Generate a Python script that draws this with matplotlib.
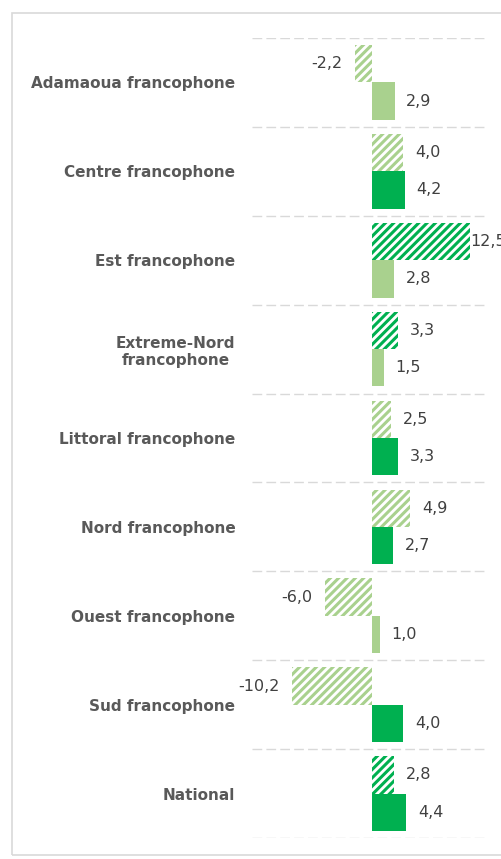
import numpy as np
import matplotlib
matplotlib.use("Agg")
import matplotlib.pyplot as plt
from matplotlib.patches import Rectangle

# Data
regions = ["Adamaoua francophone", "Centre francophone", "Est francophone",
           "Extreme-Nord\nfrancophone", "Littoral francophone", "Nord francophone",
           "Ouest francophone", "Sud francophone", "National"]
hatched_vals = [-2.2, 4.0, 12.5, 3.3, 2.5, 4.9, -6.0, -10.2, 2.8]
hatched_dark = [False, False, True, True, False, False, False, False, True]
solid_vals = [2.9, 4.2, 2.8, 1.5, 3.3, 2.7, 1.0, 4.0, 4.4]
solid_dark = [False, True, False, False, True, True, False, True, True]

light = "#a9d18e"
dark = "#00b050"

plt.rcParams["hatch.linewidth"] = 2.2

fig = plt.figure(figsize=(5.01, 8.59), dpi=100)
ax = fig.add_axes([0.503, 0.0244, 0.469, 0.9314])

# outer chart border
fig.patches.append(Rectangle((12 / 501, 1 - 855 / 859), 1.0, 842 / 859,
                             transform=fig.transFigure, fill=False,
                             edgecolor="#d9d9d9", linewidth=1.2))

y = np.arange(len(regions))
h = 0.42

for i in range(len(regions)):
    c = dark if hatched_dark[i] else light
    ax.barh(y[i] - h / 2, hatched_vals[i], height=h, color="white",
            edgecolor=c, linewidth=0, hatch="////")
    c = dark if solid_dark[i] else light
    ax.barh(y[i] + h / 2, solid_vals[i], height=h, color=c, linewidth=0)

def fmt(v):
    return f"{v:.1f}".replace(".", ",")

for i in range(len(regions)):
    for v, yy in [(hatched_vals[i], y[i] - h / 2), (solid_vals[i], y[i] + h / 2)]:
        if v >= 10:
            ax.text(v + 0.1, yy, fmt(v), ha="left", va="center",
                    fontsize=11.5, color="#404040")
        elif v >= 0:
            ax.text(v + 1.5, yy, fmt(v), ha="left", va="center",
                    fontsize=11.5, color="#404040")
        else:
            ax.text(v - 1.6, yy, fmt(v), ha="right", va="center",
                    fontsize=11.5, color="#404040")

# dashed separators between groups
for b in np.arange(len(regions) + 1) - 0.5:
    ax.axhline(b, color="#d9d9d9", linewidth=1, linestyle=(0, (7, 3)))

ax.set_xlim(-15.3, 14.7)
ax.set_ylim(len(regions) - 0.5, -0.5)
ax.set_yticks(y)
ax.set_yticklabels(regions, fontsize=11, fontweight="bold", color="#595959",
                   multialignment="center")
ax.tick_params(axis="y", length=0, pad=12)
ax.set_xticks([])
for s in ax.spines.values():
    s.set_visible(False)

fig.savefig("out.png", dpi=100)
plt.close(fig)
